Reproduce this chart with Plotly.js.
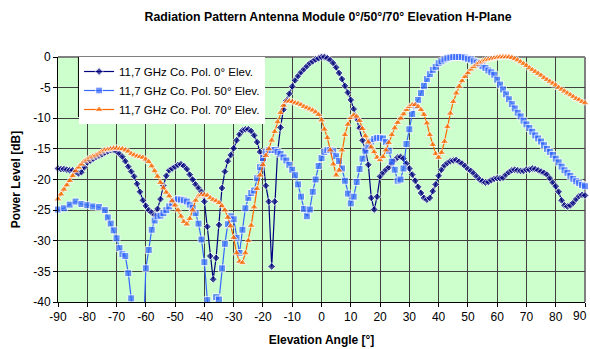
<!DOCTYPE html>
<html><head><meta charset="utf-8">
<script src="https://cdn.plot.ly/plotly-3.0.1.min.js"></script>
<style>html,body{margin:0;padding:0;background:#fff}#chart{width:590px;height:349px}</style>
</head><body><div id="chart"></div>
<script>
// ---- data ----
const seriesNames = ['11,7 GHz Co. Pol. 0° Elev.', '11,7 GHz Co. Pol. 50° Elev.', '11,7 GHz Co. Pol. 70° Elev.'];

// measurement grid, 1° steps
const angles = [];
for (let a = -90; a <= 90; a++) angles.push(a);

const elev0 = [
  -18.2, -18.3, -18.3, -18.4, -18.5, -18.5, -18.8, -19.0, -18.8, -18.0,
  -17.2, -16.9, -16.6, -16.3, -16.1, -15.9, -15.6, -15.4, -15.2, -15.2,
  -15.4, -15.8, -16.3, -17.0, -17.9, -18.7, -19.5, -20.7, -22.0, -23.4,
  -24.3, -25.0, -25.4, -25.8, -24.8, -23.2, -21.0, -19.4, -18.5, -18.2,
  -17.9, -17.6, -17.5, -17.8, -18.3, -19.2, -20.0, -20.8, -21.4, -22.0,
  -23.6, -27.7, -32.5, -36.3, -32.8, -27.4, -21.4, -18.7, -17.0, -16.0,
  -14.9, -13.6, -12.6, -12.0, -11.8, -11.8, -12.1, -12.8, -13.9, -15.5,
  -16.8, -21.0, -23.6, -34.2, -23.6, -15.5, -11.5, -8.6, -7.1, -6.0,
  -4.8, -3.8, -3.1, -2.5, -2.0, -1.5, -1.0, -0.7, -0.4, -0.2,
  0.0, 0.0, -0.2, -0.5, -1.0, -1.7, -2.6, -3.6, -4.7, -5.8,
  -7.0, -8.5, -10.1, -11.6, -13.6, -15.2, -17.6, -23.0, -24.9, -22.8,
  -19.5, -18.9, -18.4, -18.0, -17.4, -16.8, -16.4, -16.3, -16.6, -17.4,
  -18.2, -19.2, -20.2, -21.2, -22.2, -23.0, -23.3, -23.0, -21.9, -20.8,
  -19.4, -18.4, -17.7, -17.3, -17.0, -16.9, -16.8, -17.1, -17.4, -17.8,
  -18.3, -18.6, -19.0, -19.5, -20.0, -20.3, -20.5, -20.4, -20.1, -19.9,
  -19.8, -19.8, -19.7, -19.2, -18.8, -18.5, -18.4, -18.5, -18.6, -18.6,
  -18.4, -18.4, -18.2, -18.3, -18.5, -18.7, -18.9, -19.2, -19.8, -20.5,
  -21.1, -22.0, -23.4, -24.2, -24.4, -24.2, -23.8, -23.2, -22.7, -22.5,
  -22.6
];

// 50° series: 2° steps at the left edge, then 1° steps
const anglesElev50 = [-90, -88, -86, -84, -82, -80, -78, -76, -74];
for (let a = -73; a <= 90; a++) anglesElev50.push(a);

const elev50 = [
  -24.9, -24.7, -24.1, -23.6, -24.0, -24.2, -24.4, -24.5, -25.0,
  -26.2, -27.2, -28.3, -29.6, -31.2, -32.2, -32.5, -35.3, -39.4, -48.0,
  -55.0, -55.0, -47.0, -34.5, -31.5, -28.2, -26.7, -26.0, -25.9, -25.5,
  -25.0, -24.4, -23.8, -23.4, -23.2, -23.3, -23.4, -23.6, -24.1, -24.6,
  -25.5, -27.2, -29.8, -33.5, -39.7, -47.0, -45.0, -39.2, -39.6, -34.5,
  -30.5, -27.3, -26.0, -26.5, -29.5, -32.0, -28.2, -24.7, -23.0, -22.2,
  -21.8, -19.8, -18.0, -16.5, -15.5, -15.2, -15.2, -15.2, -15.5, -15.8,
  -16.4, -16.9, -17.6, -18.4, -19.3, -20.8, -22.8, -24.8, -26.0, -24.9,
  -22.0, -20.0, -17.8, -16.5, -15.5, -15.2, -15.2, -15.4, -16.2, -17.0,
  -18.2, -20.2, -22.3, -23.9, -22.8, -20.4, -18.3, -16.6, -15.3, -14.5,
  -13.8, -13.4, -13.2, -13.2, -13.3, -13.9, -15.3, -17.1, -18.4, -20.2,
  -20.0, -18.2, -14.2, -11.8, -9.3, -8.0, -7.0, -5.9, -4.7, -3.6,
  -2.8, -2.1, -1.6, -1.0, -0.7, -0.4, -0.2, -0.1, 0.0, 0.0,
  0.0, 0.0, -0.1, -0.3, -0.4, -0.7, -0.9, -1.2, -1.5, -1.8,
  -2.2, -2.5, -2.9, -3.7, -4.5, -5.3, -6.1, -6.9, -7.7, -8.4,
  -9.1, -9.7, -10.4, -11.0, -11.6, -12.2, -12.8, -13.3, -13.8, -14.4,
  -15.0, -15.5, -16.0, -16.6, -17.2, -17.9, -18.5, -18.9, -19.4, -19.9,
  -20.3, -20.6, -20.9, -21.1
];

const elev70 = [
  -23.2, -22.4, -21.6, -20.9, -20.2, -19.4, -18.6, -18.0, -17.5, -17.0,
  -16.7, -16.4, -16.2, -16.0, -15.7, -15.4, -15.2, -15.1, -15.0, -14.9,
  -14.9, -15.0, -15.0, -15.2, -15.4, -15.8, -16.0, -16.2, -16.3, -16.4,
  -16.7, -17.1, -17.8, -18.6, -19.5, -20.5, -21.4, -22.1, -22.7, -23.5,
  -24.2, -25.0, -26.0, -26.9, -27.3, -26.4, -25.0, -23.4, -22.7, -22.5,
  -22.5, -22.6, -23.0, -23.3, -23.5, -23.8, -24.3, -25.0, -26.2, -27.6,
  -29.5, -32.0, -33.4, -33.6, -32.0, -30.0, -27.5, -24.5, -21.5, -19.3,
  -17.6, -16.1, -15.0, -13.6, -12.2, -10.6, -9.1, -7.9, -7.3, -7.2,
  -7.3, -7.5, -7.6, -7.8, -8.1, -8.3, -8.5, -8.7, -9.0, -9.4,
  -10.3, -11.8, -13.2, -15.2, -17.5, -19.3, -18.5, -15.2, -12.7, -11.0,
  -9.9, -9.5, -9.7, -10.4, -11.7, -12.9, -13.9, -14.7, -15.5, -16.4,
  -16.8, -16.3, -15.2, -14.0, -12.7, -11.6, -10.7, -10.0, -9.3, -8.6,
  -8.1, -7.8, -7.8, -8.1, -8.6, -9.4, -10.8, -12.7, -14.3, -15.8,
  -16.4, -15.6, -13.8, -11.4, -9.2, -7.3, -5.9, -4.8, -3.9, -3.2,
  -2.6, -2.0, -1.6, -1.2, -0.9, -0.7, -0.5, -0.4, -0.3, -0.2,
  -0.1, 0.0, 0.0, 0.0, 0.0, -0.1, -0.3, -0.5, -0.8, -1.1,
  -1.4, -1.8, -2.1, -2.4, -2.7, -3.0, -3.4, -3.7, -4.0, -4.3,
  -4.6, -5.0, -5.3, -5.6, -5.9, -6.2, -6.5, -6.8, -7.0, -7.3,
  -7.5
];

const xTickVals = [-90, -80, -70, -60, -50, -40, -30, -20, -10, 0, 10, 20, 30, 40, 50, 60, 70, 80, 90];
const xTickText = ['-90', '-80', '-70', '-60', '-50', '-40', '-30', '-20', '-10', '0', '10', '20', '30', '40', '50', '60', '70', '80', '90'];
const yTickVals = [0, -5, -10, -15, -20, -25, -30, -35, -40];
const yTickText = ['0', '-5', '-10', '-15', '-20', '-25', '-30', '-35', '-40'];

// ---- chart ----
const FONT = 'Liberation Sans, Arial, sans-serif';
const Y_MIN = -40;
function sizes(vals, s) { return vals.map(v => (v < Y_MIN ? 0 : s)); }

// the last x tick label sits at the page edge: draw it as an annotation nudged inwards
const lastIdx = xTickVals.length - 1;
const xTickTextAxis = xTickText.map((t, i) => (i === lastIdx ? '' : t));

const traces = [
  {x: angles, y: elev0, name: seriesNames[0], type: 'scatter', mode: 'lines+markers',
   line: {color: '#000080', width: 1.2}, cliponaxis: false,
   marker: {symbol: 'diamond', size: sizes(elev0, 6), color: '#000080'}},
  {x: anglesElev50, y: elev50, name: seriesNames[1], type: 'scatter', mode: 'lines+markers',
   line: {color: '#3366FF', width: 1.2}, cliponaxis: false,
   marker: {symbol: 'square', size: sizes(elev50, 7), color: '#3366FF'}},
  {x: angles, y: elev70, name: seriesNames[2], type: 'scatter', mode: 'lines+markers',
   line: {color: '#FF6600', width: 1.2}, cliponaxis: false,
   marker: {symbol: 'triangle-up', size: sizes(elev70, 7.5), color: '#FF6600'}}
];

const layout = {
  width: 590, height: 349,
  margin: {l: 58, r: 5, t: 57, b: 47},
  paper_bgcolor: '#FFFFFF', plot_bgcolor: '#CCFFCC',
  font: {family: FONT, size: 11, color: '#000'},
  showlegend: true,
  title: {text: '<b>Radiation Pattern Antenna Module 0°/50°/70° Elevation H-Plane</b>',
          font: {family: FONT, size: 12.3, color: '#000'},
          x: 0.556, xanchor: 'center', xref: 'container', y: 0.951, yanchor: 'middle'},
  xaxis: {range: [-90, 90], tickmode: 'array', tickvals: xTickVals, ticktext: xTickTextAxis,
          ticks: 'outside', ticklen: 4, tickcolor: '#000', tickwidth: 1,
          showline: true, linecolor: '#000', linewidth: 1,
          showgrid: true, gridcolor: '#404040', gridwidth: 1, zeroline: false,
          tickfont: {family: FONT, size: 12, color: '#000'},
          title: {text: '<b>Elevation Angle [°]</b>', font: {family: FONT, size: 12, color: '#000'}, standoff: 12}},
  yaxis: {range: [-40, 0], tickmode: 'array', tickvals: yTickVals, ticktext: yTickText,
          ticks: 'outside', ticklen: 4, tickcolor: '#000', tickwidth: 1,
          showline: true, linecolor: '#000', linewidth: 1,
          showgrid: true, gridcolor: '#404040', gridwidth: 1, zeroline: false,
          tickfont: {family: FONT, size: 12, color: '#000'},
          title: {text: '<b>Power Level [dB]</b>', font: {family: FONT, size: 12, color: '#000'}, standoff: 10}},
  legend: {x: 0.04, xanchor: 'left', y: 1, yanchor: 'top', bgcolor: '#FFFFFF', borderwidth: 0,
           font: {family: FONT, size: 11.5, color: '#000'}, tracegroupgap: 0},
  annotations: [
    {x: xTickVals[lastIdx], xref: 'x', y: 0, yref: 'paper', text: xTickText[lastIdx],
     showarrow: false, xanchor: 'right', yanchor: 'top', xshift: 4, yshift: -5,
     font: {family: FONT, size: 12, color: '#000'}}
  ],
  shapes: [
    {type: 'line', xref: 'paper', yref: 'paper', x0: 0, x1: 1, y0: 1, y1: 1, line: {color: '#808080', width: 2}, layer: 'below'},
    {type: 'line', xref: 'paper', yref: 'paper', x0: 1, x1: 1, y0: 0, y1: 1, line: {color: '#808080', width: 2}, layer: 'below'},
    {type: 'line', xref: 'paper', yref: 'paper', x0: 0.0388, x1: 0.0388, y0: 0.755, y1: 1, line: {color: '#000', width: 1}, layer: 'above'}
  ]
};

Plotly.newPlot('chart', traces, layout, {displayModeBar: false, staticPlot: true});
</script></body></html>
